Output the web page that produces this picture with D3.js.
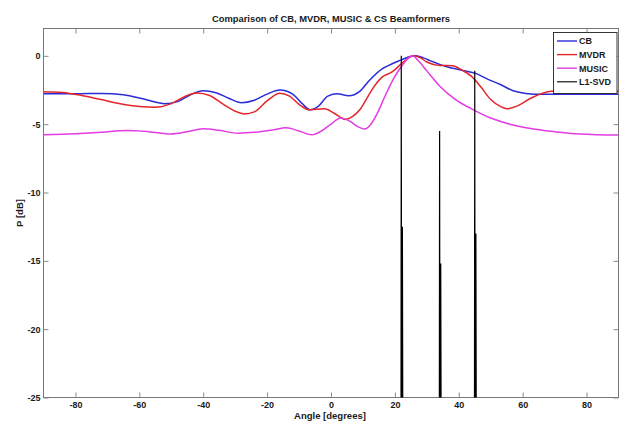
<!DOCTYPE html>
<html><head><meta charset="utf-8">
<script src="https://cdn.jsdelivr.net/npm/d3@7/dist/d3.min.js"></script>
<style>
body{margin:0;background:#fff}
svg{display:block}
text{font-family:Arial,"Liberation Sans",Helvetica,sans-serif;font-weight:bold;fill:#1a1a1a}
</style>
</head><body>
<svg id="chart" width="628" height="424"></svg>
<script>
// ---------- data ----------
const titleText = "Comparison of CB, MVDR, MUSIC & CS Beamformers";
const xLabel = "Angle [degrees]";
const yLabel = "P [dB]";
const xTicks = [-80, -60, -40, -20, 0, 20, 40, 60, 80];
const yTicks = [0, -5, -10, -15, -20, -25];
const seriesNames = ["CB", "MVDR", "MUSIC", "L1-SVD"];

const cbAngles = [-90,-80,-72,-65,-58,-52,-48,-44,-40,-36,-32,-28,-24,-20,-16,-12,-9,-6.5,-4,-1,2,5.5,9,12,16,19,22,24,26.5,29,31,36,41,45.5,49,53,57,61,66,75,90];
const cbValues = [-2.78,-2.78,-2.75,-2.85,-3.2,-3.5,-3.35,-2.85,-2.55,-2.7,-3.1,-3.43,-3.25,-2.8,-2.5,-2.8,-3.5,-3.95,-3.7,-2.95,-2.78,-2.92,-2.6,-1.8,-0.95,-0.6,-0.3,-0.1,0,-0.15,-0.35,-0.78,-1.05,-1.3,-1.7,-2.1,-2.55,-2.75,-2.82,-2.82,-2.82];

const mvdrAngles = [-90,-84,-78,-72,-66,-60,-55,-50,-46,-42,-38,-34,-30,-27,-24,-20,-16,-13,-10,-7,-4.5,-2,1,4.5,7,9,11,13,16,19,22,24,26,28,30,34,38,41,44,47,50,53,55,58,63,69,75,90];
const mvdrValues = [-2.62,-2.68,-2.9,-3.2,-3.5,-3.7,-3.76,-3.5,-3.0,-2.72,-2.9,-3.5,-4.05,-4.25,-4.1,-3.3,-2.73,-2.95,-3.55,-3.95,-3.9,-3.88,-4.2,-4.65,-4.4,-3.95,-3.2,-2.42,-1.56,-1.2,-0.59,-0.2,0,-0.15,-0.45,-0.7,-0.72,-1.05,-1.5,-2.3,-3.2,-3.7,-3.88,-3.7,-3.05,-2.6,-2.55,-2.6];

const musicAngles = [-90,-80,-72,-64,-57,-50,-45,-40,-35,-29,-24,-18,-14,-10,-6,-3,0,3,6,8.5,10.5,12.5,14.5,17,20,22,24,25.5,27.5,30,34,39,44,50,56,62,70,78,90];
const musicValues = [-5.78,-5.7,-5.6,-5.46,-5.55,-5.72,-5.55,-5.34,-5.45,-5.66,-5.6,-5.4,-5.27,-5.5,-5.78,-5.5,-5.0,-4.55,-4.8,-5.2,-5.35,-5.0,-4.2,-2.9,-1.5,-0.8,-0.2,0,-0.4,-1.1,-2.2,-3.2,-3.88,-4.55,-5.0,-5.3,-5.55,-5.72,-5.8];

const l1Angles = [-90,21.9,22.0,22.1,22.35,22.5,33.9,34.0,34.1,34.35,34.5,44.9,45.0,45.1,45.35,45.5,90];
const l1Values = [-30,-30,0,-30,-12.5,-30,-30,-5.5,-30,-15.2,-30,-30,-1.1,-30,-13.0,-30,-30];

// ---------- layout ----------
const W = 628, H = 424;
const L = 43.5, R = 618.5, T = 28.5, B = 397.5;
const colors = {"CB":"#2b2bd8","MVDR":"#e4262a","MUSIC":"#e23ce2","L1-SVD":"#000000"};

const svg = d3.select("#chart");
const x = d3.scaleLinear().domain([-90, 90]).range([L, R]);
const y = d3.scaleLinear().domain([-25, 2]).range([B, T]);

svg.append("defs").append("clipPath").attr("id","plotclip")
  .append("rect").attr("x", L).attr("y", T).attr("width", R - L).attr("height", B - T);

// box
svg.append("rect").attr("x", L).attr("y", T).attr("width", R - L).attr("height", B - T)
  .attr("fill", "#fff").attr("stroke", "#777").attr("stroke-width", 1);

const fmt = d => String(d);
const styleAxis = g => {
  g.select(".domain").remove();
  g.selectAll(".tick line").attr("stroke", "#888").attr("stroke-width", 1);
  g.selectAll(".tick text").attr("font-size", 9).attr("font-weight", "bold")
    .attr("font-family", "Arial, 'Liberation Sans', sans-serif").attr("fill", "#1a1a1a");
};

svg.append("g").attr("transform", `translate(0,${B})`)
  .call(d3.axisBottom(x).tickValues(xTicks).tickSize(-5).tickPadding(4).tickFormat(fmt))
  .call(styleAxis);
svg.append("g").attr("transform", `translate(0,${T})`)
  .call(d3.axisTop(x).tickValues(xTicks).tickSize(-5).tickFormat(""))
  .call(styleAxis);
svg.append("g").attr("transform", `translate(${L},0)`)
  .call(d3.axisLeft(y).tickValues(yTicks).tickSize(-5).tickPadding(3).tickFormat(fmt))
  .call(styleAxis);
svg.append("g").attr("transform", `translate(${R},0)`)
  .call(d3.axisRight(y).tickValues(yTicks).tickSize(-5).tickFormat(""))
  .call(styleAxis);

// series
const smooth = d3.line().x(d => x(d[0])).y(d => y(d[1])).curve(d3.curveMonotoneX);
const straight = d3.line().x(d => x(d[0])).y(d => y(d[1]));
const zip = (a, b) => a.map((v, i) => [v, b[i]]);

const plot = svg.append("g").attr("clip-path", "url(#plotclip)");
[["CB", cbAngles, cbValues], ["MVDR", mvdrAngles, mvdrValues], ["MUSIC", musicAngles, musicValues]]
  .forEach(([name, a, v]) => {
    plot.append("path").datum(zip(a, v)).attr("d", smooth)
      .attr("fill", "none").attr("stroke", colors[name]).attr("stroke-width", 1.5)
      .attr("stroke-linejoin", "round");
  });
plot.append("path").datum(zip(l1Angles, l1Values)).attr("d", straight)
  .attr("fill", "none").attr("stroke", colors["L1-SVD"]).attr("stroke-width", 1.2);

// labels
svg.append("text").attr("x", (L + R) / 2).attr("y", 21.5).attr("text-anchor", "middle")
  .attr("font-size", 9.5).attr("textLength", 238).attr("lengthAdjust", "spacingAndGlyphs")
  .text(titleText);
svg.append("text").attr("x", (L + R) / 2 - 1).attr("y", 419).attr("text-anchor", "middle")
  .attr("font-size", 9.5).text(xLabel);
svg.append("text").attr("transform", `translate(23,${(T + B) / 2}) rotate(-90)`)
  .attr("text-anchor", "middle").attr("font-size", 9.5).text(yLabel);

// legend
const lg = svg.append("g");
lg.append("rect").attr("x", 553.5).attr("y", 32.5).attr("width", 63.5).attr("height", 61)
  .attr("fill", "#fff").attr("stroke", "#222").attr("stroke-width", 0.9);
seriesNames.forEach((name, i) => {
  const yy = 41 + i * 13.6;
  lg.append("line").attr("x1", 557).attr("x2", 577).attr("y1", yy).attr("y2", yy)
    .attr("stroke", colors[name]).attr("stroke-width", name === "L1-SVD" ? 1.1 : 1.4);
  lg.append("text").attr("x", 579).attr("y", yy + 3.3).attr("font-size", 9).text(name);
});
</script>
</body></html>
